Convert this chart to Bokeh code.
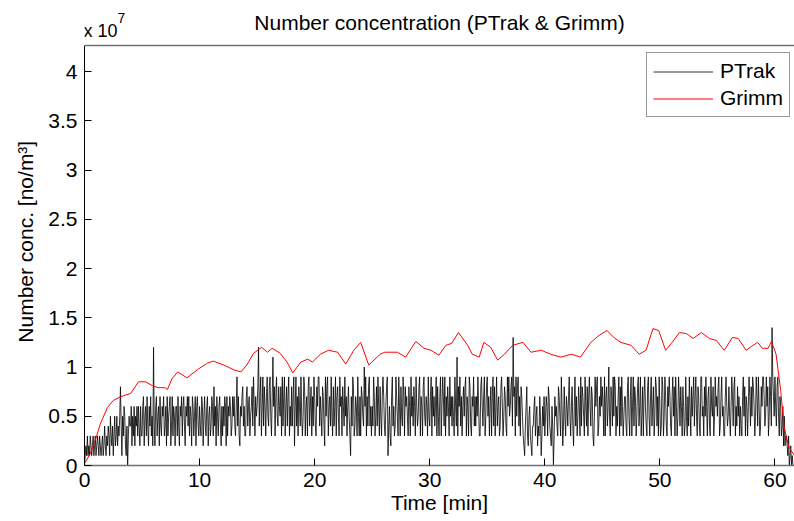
import numpy as np
from bokeh.plotting import figure
from bokeh.models import Label, FixedTicker, Range1d, Span
from bokeh.embed import file_html
from bokeh.resources import INLINE

# ---------------- data ----------------
# PTrak number concentration, in units of 10^6 no/m^3, 16 samples per minute
PTRAK_E6 = [
    0, 1, 2, 1, 3, 1, 2, 1, 3, 2, 1, 2, 3, 1, 2, 3,
    1, 2, 3, 2, 1, 3, 2, 1, 2, 3, 1, 2, 4, 2, 1, 3,
    2, 4, 3, 1, 5, 3, 2, 4, 1, 3, 5, 2, 3, 5, 2, 4,
    3, 5, 8, 4, 1, 5, 3, 6, 5, 2, 1, 4, 0, 3, 5, 4,
    4, 6, 2, 5, 3, 6, 2, 5, 4, 6, 3, 6, 4, 2, 6, 3,
    3, 6, 7, 2, 5, 6, 3, 7, 4, 2, 6, 4, 7, 3, 5, 2,
    12, 4, 2, 6, 7, 3, 5, 6, 2, 7, 4, 3, 6, 5, 7, 3,
    4, 6, 2, 7, 3, 5, 6, 7, 2, 4, 7, 3, 6, 5, 2, 6,
    6, 3, 7, 4, 2, 6, 5, 7, 3, 6, 7, 4, 2, 6, 5, 7,
    4, 7, 3, 6, 5, 2, 7, 6, 3, 5, 7, 2, 6, 7, 4, 3,
    6, 4, 3, 7, 6, 2, 5, 7, 4, 3, 6, 7, 2, 5, 6, 3,
    4, 7, 6, 3, 8, 4, 6, 2, 7, 5, 3, 6, 7, 4, 2, 6,
    3, 6, 4, 7, 6, 2, 7, 3, 6, 5, 7, 6, 3, 4, 7, 5,
    7, 4, 3, 6, 9, 4, 7, 3, 2, 6, 5, 7, 8, 4, 6, 3,
    3, 7, 8, 4, 6, 7, 3, 5, 6, 8, 4, 9, 6, 3, 7, 5,
    6, 8, 12, 4, 7, 9, 3, 6, 9, 4, 8, 6, 3, 7, 9, 5,
    4, 8, 9, 5, 3, 7, 11, 6, 8, 3, 7, 9, 5, 4, 8, 6,
    5, 8, 3, 9, 4, 7, 9, 3, 6, 8, 4, 7, 9, 3, 6, 4,
    8, 4, 7, 9, 2, 6, 9, 4, 7, 3, 8, 6, 4, 9, 5, 3,
    5, 9, 8, 3, 6, 7, 3, 8, 9, 4, 6, 8, 3, 7, 4, 9,
    7, 4, 3, 8, 6, 9, 9, 4, 7, 5, 3, 8, 7, 4, 2, 9,
    5, 8, 9, 3, 6, 7, 4, 9, 5, 3, 8, 4, 6, 9, 3, 7,
    8, 5, 3, 9, 6, 7, 3, 8, 6, 4, 9, 5, 7, 3, 6, 8,
    5, 3, 1, 7, 4, 9, 8, 3, 4, 7, 6, 3, 9, 5, 3, 7,
    3, 8, 7, 5, 4, 10, 6, 9, 3, 7, 4, 8, 9, 4, 6, 3,
    6, 4, 9, 7, 3, 5, 8, 4, 9, 6, 3, 8, 5, 3, 7, 9,
    7, 4, 3, 6, 8, 9, 1, 4, 6, 3, 2, 7, 9, 4, 6, 3,
    4, 9, 7, 5, 3, 9, 6, 3, 8, 5, 4, 9, 7, 3, 8, 6,
    7, 5, 3, 8, 6, 3, 9, 5, 7, 4, 8, 6, 3, 9, 6, 4,
    5, 8, 9, 3, 7, 6, 3, 8, 9, 5, 4, 7, 6, 3, 9, 5,
    4, 7, 9, 3, 8, 5, 7, 4, 6, 9, 3, 8, 5, 3, 7, 9,
    3, 6, 9, 7, 4, 9, 3, 7, 5, 8, 6, 3, 9, 5, 7, 4,
    7, 5, 3, 9, 6, 4, 11, 3, 8, 6, 9, 4, 7, 3, 6, 8,
    5, 8, 9, 3, 7, 6, 3, 9, 8, 4, 3, 7, 6, 9, 4, 7,
    4, 7, 5, 9, 6, 3, 3, 8, 9, 6, 4, 7, 9, 3, 5, 8,
    9, 5, 7, 3, 6, 8, 3, 7, 9, 4, 8, 3, 6, 9, 4, 6,
    7, 3, 4, 8, 9, 6, 3, 5, 8, 7, 4, 3, 9, 6, 9, 5,
    6, 8, 9, 4, 13, 7, 8, 3, 9, 5, 8, 9, 4, 7, 3, 8,
    7, 5, 3, 2, 1, 4, 6, 8, 3, 2, 5, 6, 3, 2, 1, 4,
    4, 6, 7, 3, 5, 6, 2, 4, 3, 7, 5, 1, 3, 6, 4, 7,
    3, 5, 7, 6, 3, 8, 7, 4, 3, 2, 6, 4, 0, 3, 7, 5,
    6, 4, 3, 8, 7, 5, 3, 9, 6, 2, 4, 8, 5, 3, 7, 6,
    4, 7, 9, 5, 3, 6, 8, 4, 2, 6, 9, 4, 7, 3, 5, 8,
    6, 3, 9, 4, 8, 7, 5, 3, 9, 6, 4, 8, 3, 7, 9, 6,
    4, 8, 7, 3, 2, 5, 9, 6, 8, 9, 3, 4, 7, 5, 9, 6,
    8, 6, 3, 9, 3, 7, 8, 4, 6, 10, 5, 3, 8, 7, 4, 9,
    5, 9, 8, 3, 6, 4, 7, 9, 3, 8, 4, 9, 6, 3, 5, 7,
    7, 4, 3, 8, 9, 5, 3, 7, 9, 3, 6, 9, 4, 8, 7, 3,
    5, 8, 9, 4, 6, 9, 3, 5, 8, 3, 7, 9, 6, 4, 3, 8,
    9, 5, 3, 7, 9, 4, 6, 8, 3, 5, 9, 8, 4, 7, 3, 9,
    6, 3, 4, 9, 8, 3, 5, 9, 7, 4, 3, 8, 6, 9, 7, 4,
    3, 7, 9, 5, 8, 3, 9, 6, 3, 5, 9, 7, 4, 8, 6, 3,
    8, 6, 3, 4, 9, 5, 3, 7, 4, 9, 6, 3, 8, 5, 7, 9,
    4, 7, 9, 5, 3, 8, 7, 4, 3, 9, 9, 5, 6, 3, 8, 5,
    9, 6, 3, 7, 8, 4, 3, 9, 6, 5, 8, 3, 5, 9, 6, 7,
    5, 8, 9, 3, 4, 7, 9, 5, 6, 3, 3, 7, 9, 6, 4, 5,
    8, 5, 3, 6, 9, 7, 4, 8, 9, 3, 6, 4, 8, 5, 7, 3,
    6, 4, 3, 7, 9, 5, 8, 3, 7, 6, 3, 6, 9, 7, 4, 8,
    5, 9, 8, 6, 3, 5, 9, 7, 4, 9, 6, 3, 4, 8, 6, 9,
    9, 7, 4, 5, 9, 6, 8, 3, 5, 9, 7, 4, 14, 9, 7, 5,
    9, 6, 4, 8, 9, 5, 3, 7, 6, 3, 4, 6, 2, 5, 2, 3,
    3, 2, 1, 3, 0, 1, 2, 0, 1, 0, 0,
]
PTRAK_T_END = 61.625  # minutes, time of last PTrak sample

# Grimm number concentration (units of 10^7 no/m^3) vs time (min)
GRIMM_T = [0, 0.5, 1.0, 1.4, 2.0, 2.5, 3.0, 3.4, 4.0, 4.7, 5.3, 5.9, 6.4, 7.0, 7.2, 7.6,
           8.1, 8.9, 9.9, 10.7, 11.2, 12.1, 13.0, 13.6, 14.1, 14.7, 15.4, 15.9, 16.3,
           17.0, 17.6, 18.1, 18.8, 19.4, 19.8, 20.5, 21.2, 22.0, 22.7, 23.4, 24.0, 24.7,
           25.7, 26.1, 27.2, 27.9, 28.8, 29.5, 30.1, 30.8, 31.4, 31.9, 32.5, 33.3, 33.7,
           34.3, 34.7, 35.3, 35.9, 36.5, 37.2, 38.1, 38.8, 39.7, 40.5, 41.4, 42.3, 43.1,
           44.0, 44.7, 45.4, 46.0, 46.6, 47.5, 48.2, 48.8, 49.4, 49.9, 50.5, 51.0, 51.7,
           52.3, 52.9, 53.6, 54.3, 54.9, 55.6, 56.3, 56.8, 57.5, 58.1, 58.5, 58.9, 59.4,
           59.7, 60.1, 60.5, 60.8, 61.2, 61.7, 62.0]
GRIMM_V = [0.02, 0.12, 0.28, 0.43, 0.59, 0.66, 0.69, 0.71, 0.73, 0.85, 0.85, 0.81, 0.79, 0.79,
           0.77, 0.88, 0.95, 0.89, 0.98, 1.04, 1.06, 1.02, 0.97, 0.95, 1.02, 1.14, 1.20, 1.15,
           1.19, 1.14, 1.05, 0.94, 1.05, 1.08, 1.05, 1.13, 1.17, 1.15, 1.03, 1.17, 1.25, 1.02,
           1.13, 1.15, 1.15, 1.10, 1.26, 1.19, 1.17, 1.12, 1.22, 1.24, 1.35, 1.22, 1.13, 1.10,
           1.25, 1.20, 1.07, 1.13, 1.22, 1.25, 1.15, 1.17, 1.13, 1.10, 1.13, 1.10, 1.25, 1.32,
           1.37, 1.30, 1.25, 1.22, 1.13, 1.17, 1.39, 1.37, 1.17, 1.24, 1.35, 1.34, 1.29, 1.35,
           1.29, 1.27, 1.17, 1.30, 1.29, 1.17, 1.22, 1.25, 1.19, 1.19, 1.26, 1.13, 0.76, 0.39,
           0.19, 0.10, 0.06]

X_TICKS = [0, 10, 20, 30, 40, 50, 60]
Y_TICKS = [0, 0.5, 1, 1.5, 2, 2.5, 3, 3.5, 4]
Y_TICK_LABELS = ["0", "0.5", "1", "1.5", "2", "2.5", "3", "3.5", "4"]
X_MAX = 61.70
Y_MAX = 4.264          # top of the axes box (units of 10^7)

TITLE = "Number concentration (PTrak & Grimm)"
XLABEL = "Time [min]"
YLABEL = "Number conc. [no/m\u00b3]"

# ---------------- figure ----------------
FONT = "Liberation Sans"
FS = "21px"
PX_PER_UNIT = 98.5
TOP_PAD_PX = 45  # space above the axes box, kept inside the frame for title texts

p = figure(width=794, height=521, output_backend="svg", toolbar_location=None,
           x_range=Range1d(0, X_MAX),
           y_range=Range1d(0, Y_MAX + TOP_PAD_PX / PX_PER_UNIT),
           min_border_left=84, min_border_right=0, min_border_top=0, min_border_bottom=56,
           background_fill_color="white", border_fill_color="white")
p.grid.visible = False
p.outline_line_color = None

ptrak_t = np.linspace(0, PTRAK_T_END, len(PTRAK_E6))
ptrak_v = np.array(PTRAK_E6, dtype=float) / 10.0  # -> units of 10^7

p.line(ptrak_t, ptrak_v, line_color="black", line_width=0.8, legend_label="PTrak")
p.line(GRIMM_T, GRIMM_V, line_color="#ff0000", line_width=1, legend_label="Grimm")

# top edge of the axes box
p.add_layout(Span(location=Y_MAX, dimension="width", line_color="#707070", line_width=1.5))

# bottom x axis
xa = p.xaxis[0]
xa.ticker = FixedTicker(ticks=X_TICKS)
xa.major_tick_in = 7
xa.major_tick_out = 0
xa.minor_tick_line_color = None
xa.axis_line_color = "#707070"
xa.axis_line_width = 1.5
xa.major_tick_line_color = "black"
xa.major_label_text_font = FONT
xa.major_label_text_font_size = FS
xa.major_label_text_color = "black"
xa.major_label_standoff = 7
xa.axis_label = XLABEL
xa.axis_label_text_font = FONT
xa.axis_label_text_font_size = FS
xa.axis_label_text_font_style = "normal"
xa.axis_label_text_color = "black"
xa.axis_label_standoff = 1

# left y axis
ya = p.yaxis[0]
ya.bounds = (0, Y_MAX)
ya.ticker = FixedTicker(ticks=Y_TICKS)
ya.major_label_overrides = {t: s for t, s in zip(Y_TICKS, Y_TICK_LABELS)}
ya.major_tick_in = 7
ya.major_tick_out = 0
ya.minor_tick_line_color = None
ya.axis_line_color = "black"
ya.major_tick_line_color = "black"
ya.major_label_text_font = FONT
ya.major_label_text_font_size = FS
ya.major_label_text_color = "black"
ya.major_label_standoff = 7
ya.axis_label = YLABEL + "\u00a0" * 3
ya.axis_label_text_font = FONT
ya.axis_label_text_font_size = FS
ya.axis_label_text_font_style = "normal"
ya.axis_label_text_color = "black"
ya.axis_label_standoff = 8

# title texts (screen units, relative to the frame's bottom-left; vertical centres)
FRAME_H = 465
p.add_layout(Label(x=355, y=FRAME_H - 22, x_units="screen", y_units="screen", text=TITLE,
                   text_align="center", text_baseline="middle",
                   text_font=FONT, text_font_size=FS, text_color="black"))
p.add_layout(Label(x=-1, y=FRAME_H - 30, x_units="screen", y_units="screen", text="x 10",
                   text_align="left", text_baseline="middle",
                   text_font=FONT, text_font_size="18px", text_color="black"))
p.add_layout(Label(x=33, y=FRAME_H - 17, x_units="screen", y_units="screen", text="7",
                   text_align="left", text_baseline="middle",
                   text_font=FONT, text_font_size="14px", text_color="black"))

# legend
lg = p.legend[0]
lg.location = (562, FRAME_H - 117)
lg.label_text_font = FONT
lg.label_text_font_size = FS
lg.label_text_color = "black"
lg.glyph_width = 60
lg.glyph_height = 21
lg.label_height = 21
lg.label_standoff = 7
lg.padding = 6
lg.spacing = 3
lg.margin = 0
lg.border_line_color = "#333333"
lg.border_line_width = 1
lg.background_fill_color = "white"
lg.background_fill_alpha = 1.0

open("out.html", "w").write(file_html(p, INLINE, title="Number concentration"))
